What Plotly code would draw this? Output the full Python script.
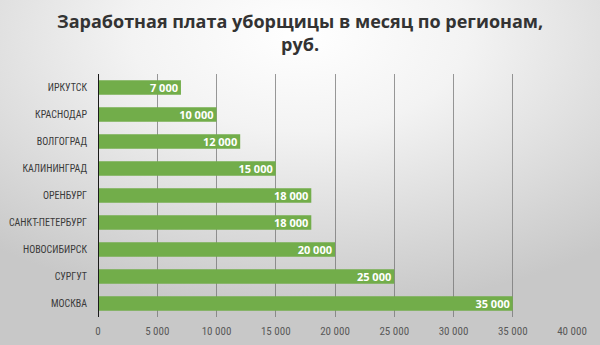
import plotly.graph_objects as go
import urllib.parse

regions = ["ИРКУТСК", "КРАСНОДАР", "ВОЛГОГРАД", "КАЛИНИНГРАД", "ОРЕНБУРГ",
           "САНКТ-ПЕТЕРБУРГ", "НОВОСИБИРСК", "СУРГУТ", "МОСКВА"]
salaries = [7000, 10000, 12000, 15000, 18000, 18000, 20000, 25000, 35000]
x_ticks = [0, 5000, 10000, 15000, 20000, 25000, 30000, 35000, 40000]
title_text = "Заработная плата уборщицы в месяц по регионам,<br>руб."

W, H = 600, 345
ML, MR, MT, MB = 98, 28, 74, 28
PW, PH = W - ML - MR, H - MT - MB

svg = (
    "<svg xmlns='http://www.w3.org/2000/svg' width='600' height='345' preserveAspectRatio='none'>"
    "<defs><radialGradient id='g' cx='50%' cy='10%' r='80%' fx='50%' fy='10%'>"
    "<stop offset='0' stop-color='#ffffff'/><stop offset='0.35' stop-color='#f3f3f3'/>"
    "<stop offset='1' stop-color='#c8c8c8'/></radialGradient></defs>"
    "<rect width='600' height='345' fill='url(#g)'/></svg>"
)
bg_uri = "data:image/svg+xml;charset=utf-8," + urllib.parse.quote(svg)

fig = go.Figure(go.Bar(
    x=salaries, y=regions, orientation="h",
    marker=dict(color="#72ad4a", line=dict(width=0)),
    text=[f"{v:,}".replace(",", " ") for v in salaries],
    textposition="inside", insidetextanchor="end", constraintext="none",
    textfont=dict(color="white", size=11, family="Open Sans", weight="bold"),
    textangle=0,
))

fig.update_layout(
    width=W, height=H,
    margin=dict(l=ML, r=MR, t=MT, b=MB, autoexpand=False),
    paper_bgcolor="#e6e6e6",
    plot_bgcolor="rgba(0,0,0,0)",
    separators=", ",
    bargap=0.47,
    showlegend=False,
    font=dict(family="Liberation Sans Narrow, Roboto Condensed, Roboto", color="#595959", size=11),
    images=[dict(source=bg_uri, xref="paper", yref="paper",
                 x=-ML / PW, y=1 + MT / PH, sizex=W / PW, sizey=H / PH,
                 xanchor="left", yanchor="top", sizing="stretch", layer="below")],
    annotations=[dict(text=title_text, xref="paper", yref="paper",
                      x=(W / 2 - ML) / PW, y=1 + (MT - 7) / PH,
                      xanchor="center", yanchor="top", showarrow=False,
                      align="center",
                      font=dict(family="Open Sans", size=18, color="#333333", weight="bold"))],
)

fig.update_xaxes(range=[0, 40000], tickvals=x_ticks, tickformat=",d",
                 showgrid=True, gridcolor="rgba(110,110,110,0.7)", gridwidth=1,
                 zeroline=False, showline=False, ticks="outside", ticklen=4,
                 tickcolor="rgba(0,0,0,0)", fixedrange=True,
                 automargin=False, tickfont=dict(size=11, color="#595959"))
fig.update_yaxes(autorange="reversed", showgrid=False, zeroline=False,
                 showline=False, ticks="outside", ticklen=8, tickcolor="rgba(0,0,0,0)",
                 automargin=False, tickfont=dict(size=10, color="#3a3a3a"))

fig.add_shape(type="line", xref="x", yref="paper", x0=0, x1=0, y0=0, y1=1,
              line=dict(color="#1a1a1a", width=2), layer="above")

fig.write_html("out.html")
